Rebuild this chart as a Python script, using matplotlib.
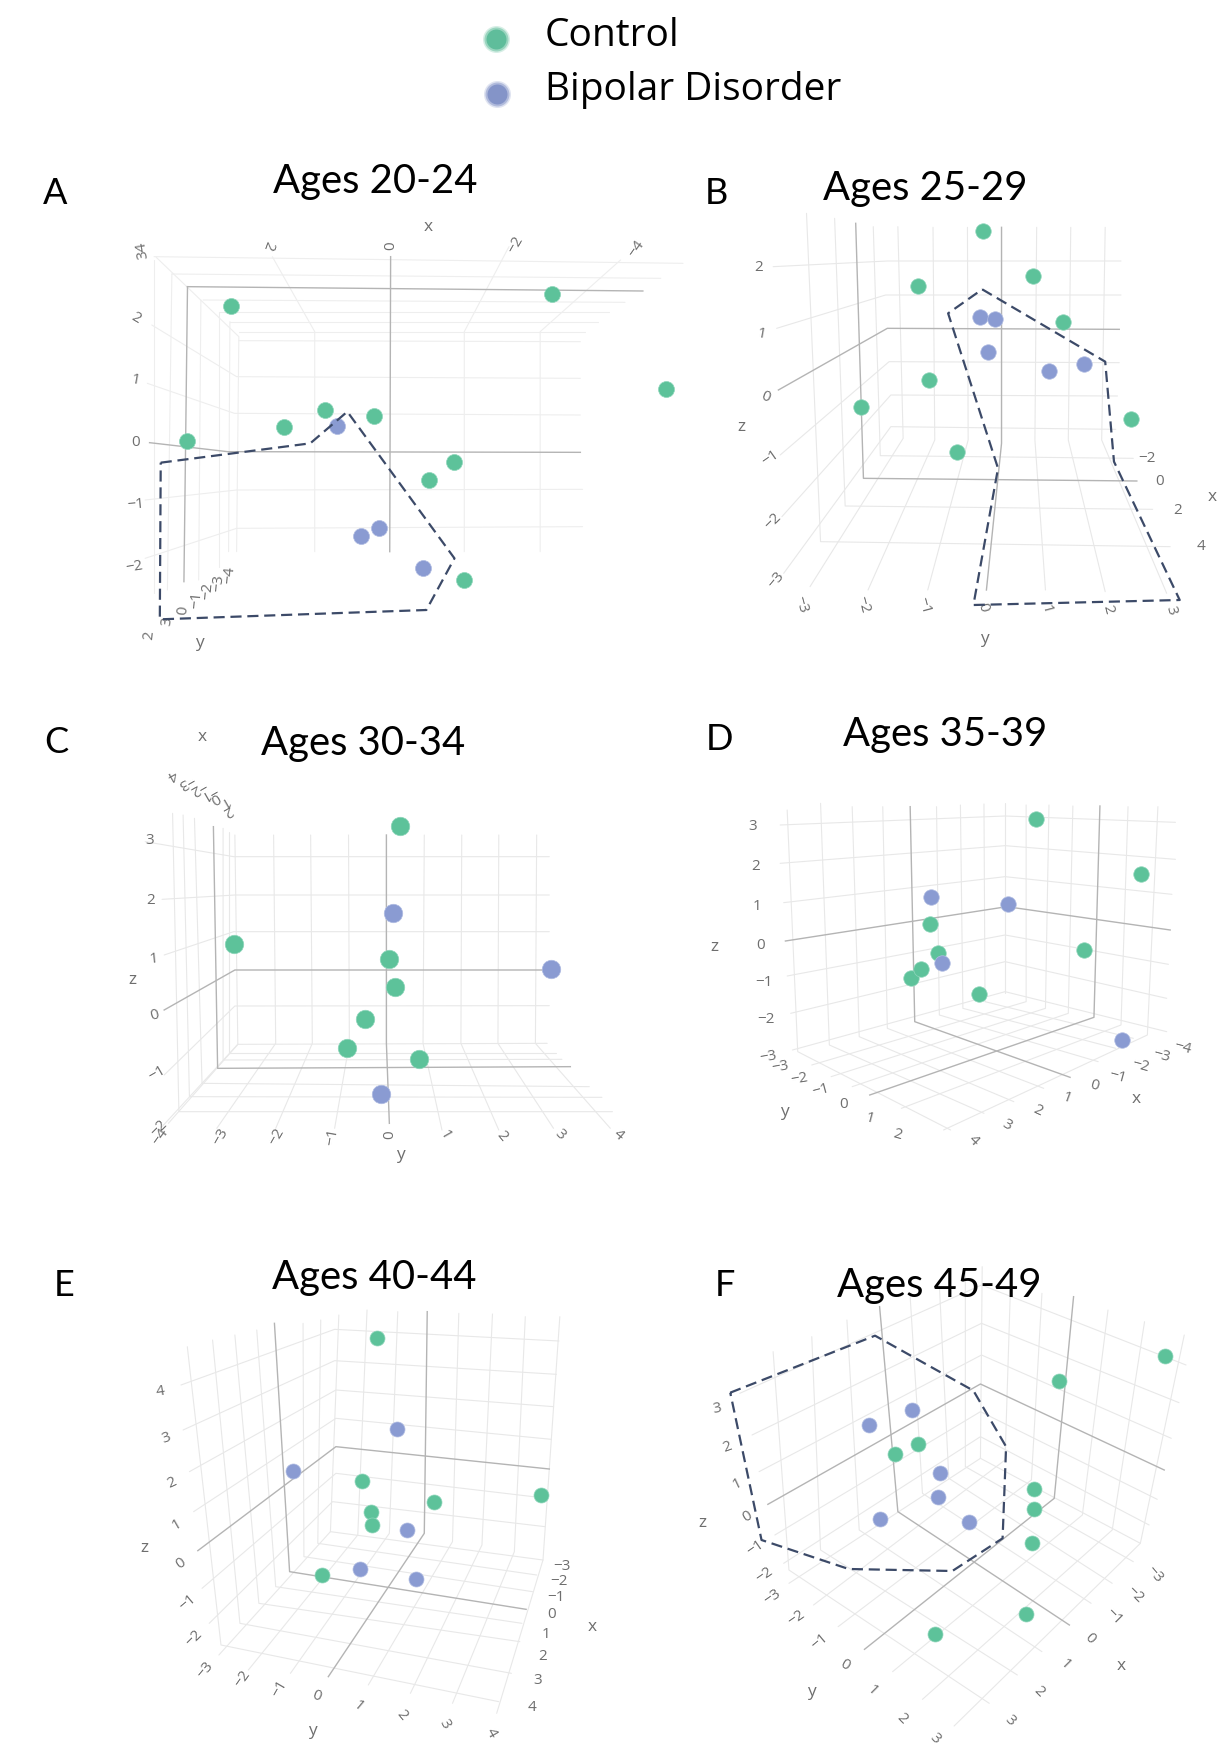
import matplotlib
matplotlib.use('Agg')
import matplotlib.pyplot as plt

GREEN = '#5DC29A'
BLUE = '#8A9BD2'
GRID = '#E8E8E8'
AXIS = '#B4B4B4'
TICK = '#6E6E6E'
DASH = '#3C4A68'

legend_labels = ['Control', 'Bipolar Disorder']
panel_letters = ['A', 'B', 'C', 'D', 'E', 'F']
panel_titles = ['Ages 20-24', 'Ages 25-29', 'Ages 30-34', 'Ages 35-39', 'Ages 40-44', 'Ages 45-49']

# panel A
a_green = [(518,467),(1237,432),(1491,716),(729,780),(837,797),(637,832),(418,872),(1016,935),(960,990),(1039,1291)]
a_blue = [(755,829),(849,1133),(809,1159),(947,1255)]
a_hull = [(360,938),(695,880),(778,785),(1018,1225),(955,1380),(358,1408),(360,938)]
a_grid = [[(340,525),(530,680),(1300,685)],[(330,700),(525,790),(1300,795)],[(325,1050),(530,1020),(1305,1018)],
          [(325,1225),(530,1135),(1305,1130)],[(345,320),(1530,340)],[(385,372),(1480,385)],[(455,450),(1400,457)],
          [(490,487),(1365,487)],[(515,515),(1340,515)],[(535,545),(1310,545)],[(535,572),(1300,575)],
          [(610,320),(705,545),(705,1205)],[(1140,290),(1040,545),(1040,1205)],[(1390,330),(1210,545),(1210,1205)],
          [(350,322),(535,560),(530,1205)],[(385,372),(375,1320)],[(345,330),(345,1330)],[(450,450),(445,1290)],
          [(490,487),(490,1250)],[(515,515),(512,1205)]]
a_axes = [[(335,878),(510,905),(1300,907)],[(420,410),(1440,423)],[(420,410),(412,1295)],[(875,320),(873,1205)]]
a_ticks = [('2',600,285,-110),('0',875,287,90),('\u22122',1155,285,60),('\u22124',1425,295,55),('34',318,300,100),
           ('2',305,505,-30),('1',303,690,-10),('0',303,878,0),('\u22121',303,1065,5),('\u22122',300,1250,10),
           ('2',335,1455,85),('3',375,1415,85),('0',410,1382,85),('\u22121',440,1350,85),('\u22122',465,1322,85),
           ('\u22123',490,1298,85),('\u22124',515,1275,85),('x',960,230,0),('y',447,1480,0)]

# panel B
b_green = [(863,244),(1005,377),(676,408),(1091,515),(709,691),(515,771),(1284,806),(787,907)]
b_blue = [(854,501),(895,507),(877,605),(1050,664),(1150,642)]
b_hull = [(860,418),(1210,635),(1235,935),(1422,1350),(835,1365),(905,955),(763,490),(860,418)]
b_grid = [[(265,350),(590,333),(1255,333)],[(275,535),(585,435),(1255,435)],[(285,915),(595,635),(1250,638)],
          [(290,1100),(600,735),(1245,738)],[(295,1270),(600,830),(1240,838)],
          [(360,190),(400,1175),(1395,1190)],[(440,205),(470,1068),(1345,1078)],[(550,230),(570,917),(1290,925)],
          [(620,230),(635,865),(370,1310)],[(720,232),(725,870),(535,1320)],[(818,232),(820,870),(705,1320)],
          [(1015,232),(1010,870),(1040,1320)],[(1112,232),(1105,870),(1210,1325)],[(1210,232),(1200,870),(1385,1330)]]
b_axes = [[(280,720),(590,535),(1250,538)],[(500,220),(522,985),(1300,993)],[(915,232),(915,880),(872,1320)]]
b_ticks = [('2',225,353,0),('1',233,552,-10),('0',243,742,-20),('\u22121',258,925,35),('\u22122',265,1115,45),('\u22123',275,1290,50),
           ('\u22123',345,1362,-75),('\u22122',520,1365,-75),('\u22121',695,1368,-75),('0',862,1372,-75),('1',1042,1378,-75),
           ('2',1218,1378,-75),('3',1398,1382,-75),('\u22122',1328,925,0),('0',1365,995,0),('2',1417,1080,0),('4',1482,1190,0),
           ('x',1515,1040,0),('z',175,832,0),('y',866,1468,0)]

# panel C
c_green = [(950,377),(555,731),(923,778),(939,862),(866,958),(824,1045),(995,1076)]
c_blue = [(934,640),(1310,806),(904,1182)]
c_grid = [[(345,425),(555,470),(1305,470)],[(385,598),(558,585),(1305,585)],[(390,765),(555,695),(1305,695)],
          [(390,1125),(558,918),(1305,917)],[(400,1270),(565,1033),(1300,1030)],
          [(410,340),(425,1235),(1455,1235)],[(435,345),(450,1190),(1430,1192)],[(462,355),(480,1150),(1400,1160)],
          [(530,385),(530,1080),(1335,1078)],[(545,395),(545,1060),(1320,1060)],[(558,405),(565,1033),(385,1280)],
          [(650,405),(655,1030),(515,1285)],[(738,405),(742,1030),(655,1285)],[(828,405),(830,1030),(795,1285)],
          [(1008,405),(1005,1030),(1050,1290)],[(1097,405),(1095,1030),(1185,1290)],[(1185,405),(1183,1030),(1315,1285)],
          [(1275,405),(1272,1030),(1450,1285)]]
c_axes = [[(390,930),(558,810),(1290,810)],[(507,380),(517,1105),(1355,1100)],[(918,405),(918,1030),(925,1270)]]
c_ticks = [('3',355,423,0),('2',358,603,0),('1',365,778,5),('0',367,948,15),('\u22121',372,1120,30),('\u22122',378,1285,45),
           ('\u22124',380,1310,55),('\u22123',523,1310,60),('\u22122',657,1310,60),('\u22121',790,1310,80),('0',925,1305,90),
           ('1',1058,1305,-60),('2',1193,1308,-50),('3',1330,1305,-45),('4',1468,1305,-40),
           ('4',408,222,-150),('\u22123',440,245,-150),('\u22122',470,262,-150),('\u22121',495,278,-150),('0',510,292,-150),
           ('1',532,305,-150),('2',540,332,-150),('x',480,110,0),('z',315,840,0),('y',952,1365,0)]

# panel D
d_green = [(1014,356),(1313,523),(711,673),(1151,751),(733,760),(657,834),(685,808),(852,883)]
d_blue = [(713,592),(934,612),(747,790),(1257,1021)]
d_grid = [[(285,375),(925,348),(1410,367)],[(285,490),(925,437),(1410,478)],[(295,608),(925,530),(1400,583)],
          [(305,828),(925,705),(1390,793)],[(315,940),(925,785),(1385,895)],[(320,1050),(925,875),(1385,995)],
          [(305,330),(335,1055),(770,1290)],[(400,310),(425,1035),(865,1240)],[(490,320),(510,1010),(950,1205)],
          [(577,320),(590,985),(1035,1165)],[(730,320),(738,945),(1190,1085)],[(798,315),(805,925),(1240,1045)],
          [(865,312),(868,905),(1290,1015)],[(925,310),(925,880)],
          [(985,315),(985,905),(375,1095)],[(1050,315),(1040,925),(430,1130)],[(1118,318),(1105,940),(490,1160)],
          [(1275,320),(1255,975),(630,1225)],[(1360,320),(1330,1005),(750,1290)]]
d_axes = [[(300,723),(930,620),(1395,690)],[(655,320),(668,965),(1110,1132)],[(1195,318),(1178,952),(540,1185)]]
d_ticks = [('3',207,378,0),('2',215,500,0),('1',220,620,0),('0',228,737,0),('\u22121',238,848,0),('\u22122',245,958,0),('\u22123',250,1072,10),
           ('\u22123',285,1100,10),('\u22122',340,1138,10),('\u22121',402,1172,15),('0',465,1213,0),('1',540,1257,-15),('2',620,1303,-15),
           ('\u22124',1430,1043,-15),('\u22123',1370,1068,-15),('\u22122',1310,1098,-15),('\u22121',1245,1130,-15),('0',1178,1158,-15),
           ('1',1100,1195,-20),('2',1018,1233,-25),('3',930,1275,-30),('4',835,1322,-45),('z',97,742,0),('y',297,1237,0),('x',1298,1198,0)]

# panel E
e_green = [(895,293),(860,722),(1285,764),(1032,785),(881,815),(884,855),(766,1005)]
e_blue = [(942,568),(697,694),(968,871),(856,988),(989,1018)]
e_grid = [[(430,435),(795,268),(1328,303)],[(435,570),(795,362),(1322,403)],[(450,695),(798,450),(1315,500)],
          [(460,815),(798,535),(1310,598)],[(480,1045),(798,700),(1300,775)],[(497,1150),(790,785),(1295,860)],
          [(520,1245),(785,875),(1290,960)],
          [(445,320),(525,1215),(1185,1385)],[(505,300),(570,1150),(1215,1300)],[(558,285),(615,1090),(1235,1205)],
          [(610,270),(655,1040),(1240,1150)],[(720,250),(722,950),(1265,1055)],[(762,240),(755,910),(1275,1005)],
          [(805,225),(785,875)],[(872,210),(850,885),(590,1290)],[(945,215),(925,880),(690,1300)],
          [(1090,220),(1075,905),(875,1335)],[(1170,222),(1145,915),(975,1360)],[(1248,230),(1222,935),(1075,1390)],
          [(1330,230),(1290,960),(1180,1420)]]
e_axes = [[(470,932),(798,620),(1305,687)],[(652,250),(688,995),(1250,1108)],[(1015,215),(1008,880),(780,1310)]]
e_ticks = [('4',380,455,10),('3',395,595,20),('2',408,730,25),('1',420,855,30),('0',430,972,35),('\u22121',445,1088,40),('\u22122',460,1195,45),
           ('\u22123',487,1290,50),('\u22122',575,1315,55),('\u22121',665,1345,60),('0',752,1368,-20),('1',850,1398,-40),('2',955,1425,-50),
           ('3',1055,1452,-60),('4',1165,1480,-60),('\u22123',1335,980,0),('\u22122',1328,1025,0),('\u22121',1320,1072,0),('0',1310,1122,0),
           ('1',1298,1185,0),('2',1288,1250,0),('3',1278,1322,0),('4',1265,1402,0),('x',1408,1160,0),('z',343,925,0),('y',743,1472,0)]

# panel F
f_green = [(1380,349),(1078,424),(677,611),(613,641),(1006,747),(1006,808),(1002,910),(984,1121),(726,1183)]
f_blue = [(660,509),(537,554),(739,700),(735,772),(570,838),(823,846)]
f_hull = [(143,458),(555,287),(835,452),(928,620),(918,895),(775,993),(480,987),(232,900),(143,458)]
f_grid = [[(170,460),(858,135),(1440,375)],[(205,585),(858,250),(1420,488)],[(225,695),(858,345),(1398,595)],
          [(270,885),(855,515),(1358,778)],[(295,970),(855,590),(1335,855)],[(310,1030),(855,655),(1310,910)],
          [(265,335),(310,990),(880,1390)],[(375,290),(400,930),(960,1305)],[(475,240),(510,870),(1030,1235)],
          [(655,170),(690,760),(1170,1090)],[(738,135),(765,715),(1230,1030)],[(812,100),(812,680),(1290,965)],
          [(860,80),(855,655)],[(940,155),(925,660),(380,1095)],[(1030,160),(1000,720),(450,1160)],
          [(1218,210),(1145,825),(605,1295)],[(1322,245),(1230,870),(690,1378)],[(1435,285),(1310,910),(780,1458)]]
f_axes = [[(250,793),(855,432),(1378,690)],[(568,200),(620,815),(1108,1155)],[(1120,170),(1065,775),(525,1228)]]
f_ticks = [('3',105,507,10),('2',135,623,20),('1',162,733,25),('0',190,830,30),('\u22121',215,925,35),('\u22122',240,1005,35),
           ('\u22123',262,1072,35),('\u22122',330,1135,35),('\u22121',398,1205,40),('0',468,1275,-30),('1',548,1352,-45),('2',632,1435,-45),('3',725,1495,-45),
           ('\u22123',1350,1003,-50),('\u22122',1295,1065,-45),('\u22121',1235,1130,-45),('0',1165,1197,-45),('1',1095,1275,-45),('2',1020,1355,-45),
           ('3',940,1442,-45),('x',1255,1277,0),('z',65,850,0),('y',375,1357,0)]

panels = [
    # crop left, top, width, height in pixels, title xy, letter xy, dot size, grid colour
    (0, 150, 700, 520, a_green, a_blue, a_grid, a_axes, a_ticks, a_hull, (840,95), (123,130), 16.0, '#EEEEEE'),
    (680, 150, 551, 520, b_green, b_blue, b_grid, b_axes, b_ticks, b_hull, (697,115), (103,130), 15.5, GRID),
    (0, 700, 660, 490, c_green, c_blue, c_grid, c_axes, c_ticks, None, (862,131), (133,128), 18.5, GRID),
    (680, 700, 551, 490, d_green, d_blue, d_grid, d_axes, d_ticks, None, (755,104), (113,120), 15.5, GRID),
    (0, 1240, 660, 507, e_green, e_blue, e_grid, e_axes, e_ticks, None, (890,111), (152,135), 15.0, GRID),
    (680, 1240, 551, 507, f_green, f_blue, f_grid, f_axes, f_ticks, f_hull, (738,135), (127,135), 15.0, GRID),
]

W, H = 1231, 1747
fig = plt.figure(figsize=(W / 100, H / 100), dpi=100, facecolor='white')


def xs(pts):
    return [p[0] for p in pts]


def ys(pts):
    return [p[1] for p in pts]


for i, (left, top, w, h, green, blue, grid, axes_lines, ticks, hull, title_xy, letter_xy, dot, grid_col) in enumerate(panels):
    ax = fig.add_axes([left / W, 1 - (top + h) / H, w / W, h / H])
    ax.set_xlim(0, 1568)
    ax.set_ylim(h * 3, 0)
    ax.axis('off')
    ax.patch.set_alpha(0)
    for line in grid:
        ax.plot(xs(line), ys(line), color=grid_col, lw=0.8, zorder=1, solid_capstyle='round', clip_on=False)
    for line in axes_lines:
        ax.plot(xs(line), ys(line), color=AXIS, lw=1.0, zorder=2, clip_on=False)
    for label, x, y, rot in ticks:
        # axis names are a bit bigger than the numbers
        fs = 12.5 if label in ('x', 'y', 'z') else 11
        ax.text(x, y, label, fontsize=fs, color=TICK, family='Open Sans', rotation=rot,
                ha='center', va='center', zorder=3, clip_on=False)
    size = (dot * 0.72) ** 2
    ax.scatter(xs(green), ys(green), s=size, color=GREEN, edgecolors='#8FD6BB', linewidths=0.5, zorder=4, clip_on=False)
    ax.scatter(xs(blue), ys(blue), s=size, color=BLUE, edgecolors='#B0BCE2', linewidths=0.5, zorder=5, clip_on=False)
    if hull is not None:
        ax.plot(xs(hull), ys(hull), color=DASH, lw=1.6, ls=(0, (5, 2.6)), zorder=6, clip_on=False)
    ax.text(title_xy[0], title_xy[1], panel_titles[i], fontsize=28.8, family='Lato', color='black',
            ha='center', va='center', zorder=7, clip_on=False)
    ax.text(letter_xy[0], letter_xy[1], panel_letters[i], fontsize=26, family='Lato', color='black',
            ha='center', va='center', zorder=7, clip_on=False)

# legend on top, blurred dots like the pasted image
leg = fig.add_axes([0, 1 - 130 / H, 1, 130 / H])
leg.set_xlim(0, W)
leg.set_ylim(130, 0)
leg.axis('off')
leg.patch.set_alpha(0)
legend_x = [496, 497]
legend_y = [39, 94]
text_y = [36, 90]
legend_colors = ['#5FBD9B', '#8494C8']
for k in range(2):
    for grow, alpha in [(27, 0.25), (24, 0.5), (20, 1.0)]:
        leg.scatter([legend_x[k]], [legend_y[k]], s=(grow * 0.72) ** 2, color=legend_colors[k], alpha=alpha, linewidths=0)
    leg.text(545, text_y[k], legend_labels[k], fontsize=28, family='Open Sans', color='black', ha='left', va='center')

fig.savefig('out.png', dpi=100)
